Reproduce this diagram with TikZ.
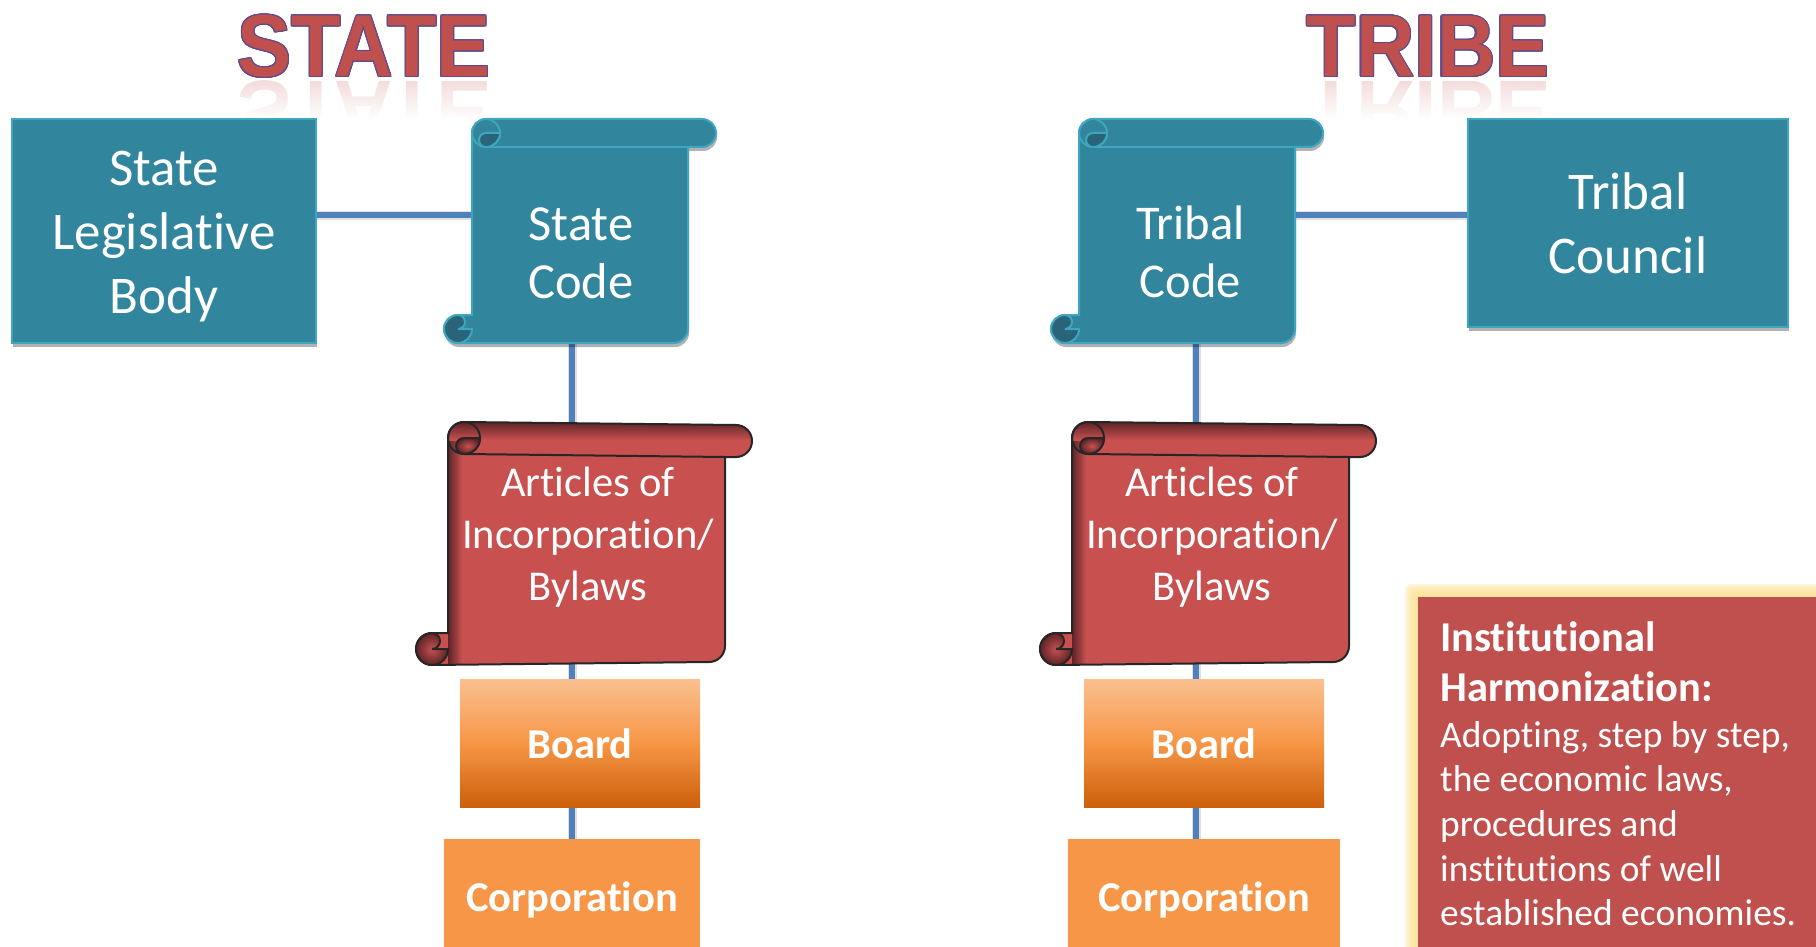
\documentclass[tikz,border=0pt]{standalone}
\usepackage{fontspec}
\setmainfont[Ligatures=NoCommon]{Carlito}
\newfontfamily\titlefont{Liberation Sans}
\usepackage{contour}
\usetikzlibrary{fadings,shadows}
\definecolor{tealfill}{HTML}{31859C}
\definecolor{tealedge}{HTML}{3FA6C0}
\definecolor{tealdark}{HTML}{2A6478}
\definecolor{redfill}{HTML}{C8504F}
\definecolor{reddark}{HTML}{5E2428}
\definecolor{boxred}{HTML}{C0504D}
\definecolor{wire}{HTML}{4F81BD}
\definecolor{orangefill}{HTML}{F79646}
\definecolor{orangelight}{HTML}{FAC090}
\definecolor{orangedark}{HTML}{CC5F0A}
\definecolor{titleedge}{HTML}{5F4B8B}
\definecolor{glow}{HTML}{FFE39A}
\contourlength{1.2pt}
\tikzset{
	wireline/.style={draw=wire,line width=5.5pt,preaction={draw=black!12,line width=9pt}},
	softshadow/.style={drop shadow={fill=black,opacity=0.3,shadow xshift=1pt,shadow yshift=-4pt}},
	tealbox/.style={draw=tealedge,line width=2pt,fill=tealfill,text=white,align=center,inner sep=0pt,softshadow,font=\fontsize{53}{64}\selectfont},
	scrolltext/.style={text=white,align=center},
	boardbox/.style={minimum width=240pt,minimum height=128pt,inner sep=0pt,text=white,
		top color=orangelight,bottom color=orangedark,middle color=orangefill,font=\fontsize{42.5}{50}\selectfont\bfseries},
	corpbox/.style={fill=orangefill,inner sep=0pt,text=white,minimum height=108pt,font=\fontsize{42.5}{50}\selectfont\bfseries},
	titletext/.style={inner sep=0pt,font=\fontsize{88}{88}\selectfont\titlefont\bfseries},
	scrollteal/.style={draw=tealedge,line width=2pt,fill=tealfill},
	scrollred/.style={draw=black!85,line width=2pt,fill=redfill},
}
% left, top, body right, bar right, bottom, radius, tilt
\newcommand{\scrollpath}[7]{
	({#1+#6},#2) -- ({#4-#6},{#2+#7}) arc (-90:90:#6) -- (#3,{#2+2*#6+#7})
	-- (#3,{#5-#6-#7}) arc (0:90:#6) -- ({#1-#6},#5) arc (90:270:#6) -- (#1,{#5-2*#6})
	-- (#1,{#2+#6}) arc (180:270:#6)
}
% left, top, body right, bottom, radius, tilt, curl fill, edge colour
\newcommand{\scrollcurls}[8]{
	\draw[#8,line width=2pt] ({#1+#5},{#2+2*#5}) -- (#3,{#2+2*#5+#6});
	\draw[#8,line width=2pt] ({#1+#5},{#2+#5}) circle (#5);
	\draw[#8,line width=2pt,#7] ({#1+2*#5},{#2+#5}) -- ({#1+#5},{#2+#5})
		arc (-90:-270:#5/2) arc (90:0:#5) -- cycle;
	\draw[#8,line width=2pt,#7] ({#1-#5},{#4-2*#5}) arc (-90:-270:#5) arc (90:0:#5)
		-- ({#1-#5},{#4-#5}) arc (90:-90:#5/2) -- cycle;
}
\begin{document}
\begin{tikzpicture}[x=1pt,y=-1pt]
	\useasboundingbox (0,0) rectangle (1816,947);
	%titles
	\foreach \name/\x/\word in {statetitle/364/STATE,tribetitle/1428/TRIBE}{
		\begin{scope}
			\clip (\x-150,80) rectangle (\x+150,119);
			\node (\name mirror) at (\x,112) [titletext,text=boxred!20]{\scalebox{0.92}[-1]{\word}};
			\fill[white,path fading=north] (\x-150,80) rectangle (\x+150,119);
		\end{scope}
		\node (\name) at (\x,47) [titletext]{\scalebox{0.92}[1]{\contour{titleedge}{\textcolor{boxred}{\word}}}};
	}
	%teal boxes
	\node (legislative) at (164,231) [tealbox,minimum width=304pt,minimum height=224pt]{\rule{0pt}{46pt}State\\Legislative\\Body};
	\node (council) at (1628,223) [tealbox,minimum width=320pt,minimum height=208pt]{Tribal\\Council};
	%connectors go first, the shapes cover them
	\coordinate (statelink) at (472,215);
	\coordinate (tribelink) at (1296,215);
	\coordinate (statestem) at (572,344);
	\coordinate (tribestem) at (1196,344);
	\coordinate (stateend) at (572,839);
	\coordinate (tribeend) at (1196,839);
	\draw[wireline] (statelink) -- (statelink -| legislative.east);
	\draw[wireline] (tribelink) -- (tribelink -| council.west);
	\draw[wireline] (statestem) -- (stateend);
	\draw[wireline] (tribestem) -- (tribeend);
	%teal scrolls
	\foreach \x in {0,607}{
		\filldraw[scrollteal,softshadow] \scrollpath{472+\x}{119}{688+\x}{716+\x}{343}{14}{0} -- cycle;
		\scrollcurls{472+\x}{119}{688+\x}{343}{14}{0}{fill=tealdark}{tealedge}
	}
	\node (statecode) at (581,253) [scrolltext,font=\fontsize{50.5}{58}\selectfont]{State\\Code};
	\node (tribecode) at (1190.5,252) [scrolltext,font=\fontsize{48.5}{58}\selectfont]{Tribal\\Code};
	%red scrolls
	\foreach \x in {0,624}{
		\fill[redfill] \scrollpath{448+\x}{422}{725+\x}{752+\x}{665}{16}{3} -- cycle;
		\begin{scope}
			\clip \scrollpath{448+\x}{422}{725+\x}{752+\x}{665}{16}{3} -- cycle;
			\shade[left color=reddark,right color=redfill] (448+\x,422) rectangle (462+\x,665);
			\shade[top color=reddark,bottom color=redfill] (448+\x,422) rectangle (752+\x,440);
		\end{scope}
		\draw[scrollred,fill=none] \scrollpath{448+\x}{422}{725+\x}{752+\x}{665}{16}{3} -- cycle;
		\scrollcurls{448+\x}{422}{725+\x}{665}{16}{3}{inner color=redfill,outer color=reddark}{black!85}
	}
	\node (statearticles) at (588,537) [scrolltext,font=\fontsize{42.5}{52}\selectfont]{Articles of\\Incorporation/\\Bylaws};
	\node (tribearticles) at (1212,537) [scrolltext,font=\fontsize{42.5}{52}\selectfont]{Articles of\\Incorporation/\\Bylaws};
	%orange boxes
	\node (stateboard) at (580,743) [boardbox]{\raisebox{-9pt}[20pt][8pt]{Board}};
	\node (tribeboard) at (1204,743) [boardbox]{\raisebox{-9pt}[20pt][8pt]{Board}};
	\node (statecorp) at (572,893) [corpbox,minimum width=256pt]{\raisebox{-12pt}[20pt][8pt]{Corporation}};
	\node (tribecorp) at (1204,893) [corpbox,minimum width=272pt]{\raisebox{-12pt}[20pt][8pt]{Corporation}};
	%note
	\foreach \g in {13,11,9,7,5,3}{
		\fill[glow,opacity=0.35,rounded corners=6pt] (1418-\g,597-\g) rectangle (1830,960);
	}
	\node (note) at (1418,597) [anchor=north west,fill=boxred,minimum width=398pt,minimum height=350pt,inner sep=0pt]{};
	\node (notetext) at (1440,621) [anchor=north west,text=white,align=left,inner sep=0pt,font=\fontsize{37.5}{44.6}\selectfont]{{\fontsize{42.5}{51}\selectfont\bfseries Institutional}\\[6pt]{\fontsize{42.5}{51}\selectfont\bfseries Harmonization:}\\[1pt]Adopting, step by step,\\the economic laws,\\procedures and\\institutions of well\\established economies.};
\end{tikzpicture}
\end{document}
